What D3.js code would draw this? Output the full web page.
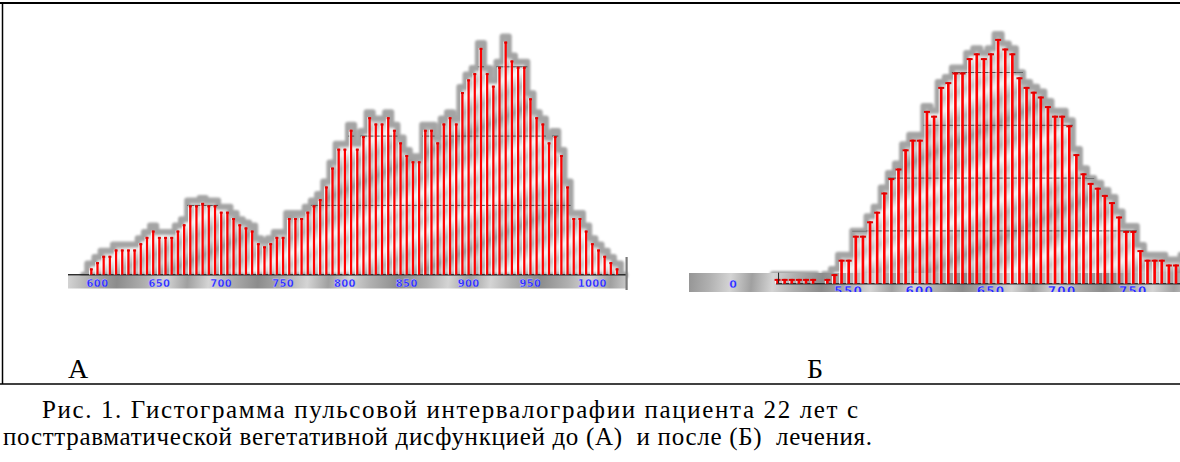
<!DOCTYPE html>
<html>
<head>
<meta charset="utf-8">
<script src="https://cdn.jsdelivr.net/npm/d3@7"></script>
<style>
  body { margin: 0; background: #fff; }
  svg { display: block; }
</style>
</head>
<body>
<div id="chart"></div>
<script>
// Гистограмма А (до лечения): начало интервала, мс и число кардиоинтервалов
const binsA = [595, 600, 605, 610, 615, 620, 625, 630, 635, 640,
  645, 650, 655, 660, 665, 670, 675, 680, 685, 690,
  695, 700, 705, 710, 715, 720, 725, 730, 735, 740,
  745, 750, 755, 760, 765, 770, 775, 780, 785, 790,
  795, 800, 805, 810, 815, 820, 825, 830, 835, 840,
  845, 850, 855, 860, 865, 870, 875, 880, 885, 890,
  895, 900, 905, 910, 915, 920, 925, 930, 935, 940,
  945, 950, 955, 960, 965, 970, 975, 980, 985, 990,
  995, 1000, 1005, 1010, 1015, 1020];
const countsA = [1, 2, 3, 3, 4, 4, 4, 4, 5, 6,
  7, 6, 6, 6, 7, 8, 11, 11, 11.4, 11,
  11, 10, 10, 9, 8, 7.5, 7, 5, 4.5, 5,
  6, 6, 9, 9, 9, 10, 11, 12, 14, 17,
  20, 20, 23, 20, 22, 25, 24, 24, 25, 23,
  21, 19, 18, 18, 23, 23, 21, 24, 25, 24,
  29, 31, 32, 36, 32, 30, 33, 37, 34, 33,
  33, 28, 25, 24, 21, 22, 19, 14, 9, 9,
  7, 5, 4, 3, 2, 1];
const ticksA = [600, 650, 700, 750, 800, 850, 900, 950, 1000];

// Гистограмма Б (после лечения)
const binsB = [500, 505, 510, 515, 520, 525, 530, 535, 540, 545,
  550, 555, 560, 565, 570, 575, 580, 585, 590, 595,
  600, 605, 610, 615, 620, 625, 630, 635, 640, 645,
  650, 655, 660, 665, 670, 675, 680, 685, 690, 695,
  700, 705, 710, 715, 720, 725, 730, 735, 740, 745,
  750, 755, 760, 765, 770, 775, 780];
const countsB = [1, 1, 1, 1, 1, 1, 0, 1, 2, 5,
  5, 10, 10, 13, 15, 19, 22, 24, 28, 30,
  30, 36, 35, 41, 42, 44, 44, 47, 48, 47,
  48, 51, 49, 48, 43, 41, 40, 39, 37, 35,
  35, 33, 27, 23, 21, 20, 18.5, 17, 14, 11,
  11, 7, 5, 5, 5, 4, 4];
const ticksB = [550, 600, 650, 700, 750];

const gridA = [11, 22, 33];
const gridB = [11, 22, 33, 44];
const panelLabels = ["А", "Б"];
const captionLines = [
  "Рис. 1. Гистограмма пульсовой интервалографии пациента 22 лет с",
  "посттравматической вегетативной дисфункцией до (А)  и после (Б)  лечения."
];

const W = 1180, H = 462;
const serif = "'Liberation Serif', 'Times New Roman', 'DejaVu Serif', serif";
const svg = d3.select("#chart").append("svg").attr("width", W).attr("height", H);
const defs = svg.append("defs");

// серая "фактура" фона гистограммы
const tex = defs.append("linearGradient").attr("id", "tex")
  .attr("gradientUnits", "userSpaceOnUse").attr("spreadMethod", "reflect")
  .attr("x1", 0).attr("y1", 0).attr("x2", 22).attr("y2", 48);
[[0, "#9a9a9a"], [0.2, "#d2d2d2"], [0.4, "#b2b2b2"], [0.65, "#f4f4f4"], [0.85, "#c6c6c6"], [1, "#e2e2e2"]]
  .forEach(s => tex.append("stop").attr("offset", s[0]).attr("stop-color", s[1]));

const strip = defs.append("linearGradient").attr("id", "strip")
  .attr("gradientUnits", "userSpaceOnUse").attr("spreadMethod", "reflect")
  .attr("x1", 0).attr("y1", 0).attr("x2", 70).attr("y2", 6);
[[0, "#8c8c8c"], [0.4, "#b0b0b0"], [0.7, "#d4d4d4"], [1, "#a0a0a0"]]
  .forEach(s => strip.append("stop").attr("offset", s[0]).attr("stop-color", s[1]));

defs.append("filter").attr("id", "soft").append("feGaussianBlur").attr("stdDeviation", 1.2);

function drawHist(c) {
  const g = svg.append("g");
  const base = c.y(0);

  // силуэт серого фона по вершинам столбцов
  const pts = c.bins.map((b, i) => ({ x: c.x(b), top: c.counts[i] > 0 ? c.y(c.counts[i]) - 5 : base }));
  const shape = [{ x: c.x(c.bins[0]) - c.step * 1.3, top: base },
    ...pts,
    { x: c.x(c.bins[c.bins.length - 1]) + c.step * 1.3, top: c.endTop }];
  const area = d3.area().x(d => d.x).y0(base + 1).y1(d => d.top).curve(d3.curveStep);

  defs.append("clipPath").attr("id", c.id + "clip")
    .append("path").attr("d", area(shape));

  g.append("path").attr("d", area(shape))
    .attr("fill", "url(#tex)").attr("stroke", "#a4a4a4").attr("stroke-width", 6)
    .attr("stroke-linejoin", "round")
    .attr("filter", "url(#soft)");

  // горизонтальная сетка (видна только внутри силуэта)
  g.append("g").attr("clip-path", `url(#${c.id}clip)`)
    .selectAll("line").data(c.grid).join("line")
    .attr("x1", c.stripX[0]).attr("x2", c.stripX[1])
    .attr("y1", d => c.y(d)).attr("y2", d => c.y(d))
    .attr("stroke", "#4d4d4d").attr("stroke-width", 1);

  // полоса оси
  g.append("rect")
    .attr("x", c.stripX[0]).attr("y", c.stripY[0])
    .attr("width", c.stripX[1] - c.stripX[0]).attr("height", c.stripY[1] - c.stripY[0])
    .attr("fill", "url(#strip)");

  g.append("line")
    .attr("x1", c.baseX[0]).attr("x2", c.baseX[1])
    .attr("y1", base).attr("y2", base)
    .attr("stroke", "#2e2e2e").attr("stroke-width", 1.5);

  // столбцы
  const data = c.bins.map((b, i) => ({ b, v: c.counts[i] })).filter(d => d.v > 0);
  const bars = g.append("g");
  bars.selectAll("rect.hl").data(data).join("rect").attr("class", "hl")
    .attr("x", d => c.x(d.b) - c.barW / 2 - 1.2).attr("width", 1.1)
    .attr("y", d => c.y(d.v)).attr("height", d => base - c.y(d.v))
    .attr("fill", "#ffffff").attr("opacity", 0.85);
  bars.selectAll("rect.bar").data(data).join("rect").attr("class", "bar")
    .attr("x", d => c.x(d.b) - c.barW / 2).attr("width", c.barW)
    .attr("y", d => c.y(d.v)).attr("height", d => base - c.y(d.v))
    .attr("fill", "#ff0000");
  bars.selectAll("rect.cap").data(data).join("rect").attr("class", "cap")
    .attr("x", d => c.x(d.b) - c.capW / 2).attr("width", c.capW)
    .attr("y", d => c.y(d.v)).attr("height", 2)
    .attr("fill", "#e00000");

  // подписи оси
  const lab = g.append("g");
  if (c.labelClip) {
    defs.append("clipPath").attr("id", c.id + "lab").append("rect")
      .attr("x", c.stripX[0]).attr("y", c.stripY[0])
      .attr("width", c.stripX[1] - c.stripX[0]).attr("height", c.stripY[1] - c.stripY[0]);
    lab.attr("clip-path", `url(#${c.id}lab)`);
  }
  lab.selectAll("text").data(c.ticks).join("text")
    .attr("x", d => c.x(d)).attr("y", c.labelY)
    .attr("text-anchor", "middle")
    .attr("font-family", "DejaVu Sans").attr("font-weight", "bold")
    .attr("font-size", c.labelSize).attr("letter-spacing", c.labelSpacing)
    .attr("fill", "#2424ff").attr("stroke", "#dcdcff").attr("stroke-width", 0.3)
    .text(d => d);
  return g;
}

// ---- Панель А ----
const xA = d3.scaleLinear().domain([600, 1000]).range([97.5, 592.3]);
const yA = d3.scaleLinear().domain([0, 11]).range([274.7, 205.4]);
drawHist({
  id: "A", bins: binsA, counts: countsA, x: xA, y: yA,
  step: xA(605) - xA(600), barW: 2.2, capW: 3, grid: gridA,
  stripX: [68, 627], stripY: [275.5, 288.5], baseX: [68, 626], endTop: yA(0),
  ticks: ticksA, labelY: 287, labelSize: 10, labelSpacing: 0.3, labelClip: false
});
svg.append("rect").attr("x", 625.5).attr("y", 257).attr("width", 2.2).attr("height", 33).attr("fill", "#7a7a7a");

// ---- Панель Б ----
const xB = d3.scaleLinear().domain([550, 750]).range([848.7, 1133.3]);
const yB = d3.scaleLinear().domain([0, 11]).range([283.7, 230.9]);
const gB = drawHist({
  id: "B", bins: binsB, counts: countsB, x: xB, y: yB,
  step: xB(505) - xB(500), barW: 2.6, capW: 6, grid: gridB,
  stripX: [689, 1180], stripY: [273, 292], baseX: [776, 1180], endTop: yB(5) - 5,
  ticks: ticksB, labelY: 294.5, labelSize: 12, labelSpacing: 1.2, labelClip: true
});
gB.append("line")
  .attr("x1", xB(500) + 1).attr("x2", xB(500) + 1)
  .attr("y1", 272.7).attr("y2", yB(0))
  .attr("stroke", "#222").attr("stroke-width", 1);
gB.append("text")
  .attr("x", 733).attr("y", 288)
  .attr("text-anchor", "middle")
  .attr("font-family", "DejaVu Sans").attr("font-weight", "bold").attr("font-size", 11)
  .attr("fill", "#2424ff").attr("stroke", "#dcdcff").attr("stroke-width", 0.3)
  .text("0");

// ---- Рамка таблицы ----
svg.append("line").attr("x1", 0).attr("x2", W).attr("y1", 3).attr("y2", 3)
  .attr("stroke", "#000").attr("stroke-width", 2);
svg.append("line").attr("x1", 2.5).attr("x2", 2.5).attr("y1", 2).attr("y2", 384)
  .attr("stroke", "#000").attr("stroke-width", 1.5);
svg.append("line").attr("x1", 0).attr("x2", W).attr("y1", 384).attr("y2", 384)
  .attr("stroke", "#000").attr("stroke-width", 1.5);

// ---- Буквы панелей ----
svg.selectAll("text.panel").data(panelLabels).join("text").attr("class", "panel")
  .attr("x", (d, i) => [68, 807][i]).attr("y", 378)
  .style("font-family", serif).style("font-size", "28px")
  .attr("fill", "#000").text(d => d);

// ---- Подпись ----
svg.selectAll("text.cap").data(captionLines).join("text").attr("class", "cap")
  .attr("x", (d, i) => [42, 3][i]).attr("y", (d, i) => [418, 445][i])
  .attr("textLength", (d, i) => [816, 869][i]).attr("lengthAdjust", "spacing")
  .style("font-family", serif).style("font-size", "25px").style("white-space", "pre")
  .attr("fill", "#000").text(d => d);
</script>
</body>
</html>
